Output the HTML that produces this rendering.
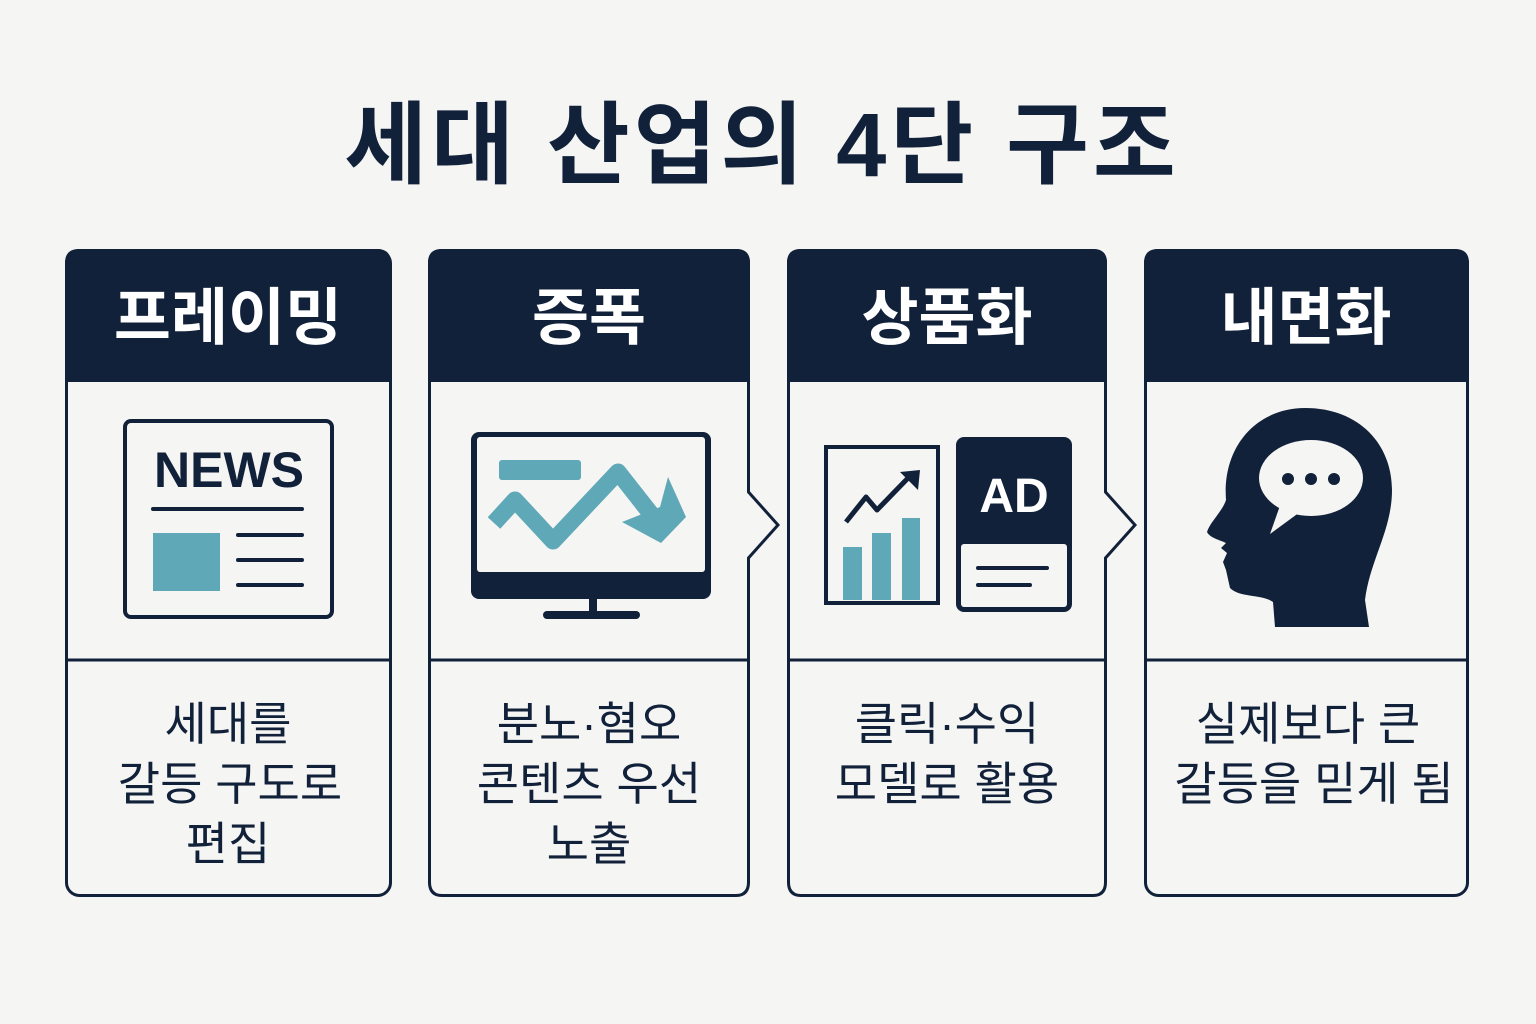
<!DOCTYPE html>
<html><head><meta charset="utf-8"><style>
html,body{margin:0;padding:0;background:#f5f5f3;}
svg{display:block}
text{font-family:"Liberation Sans","Noto Sans CJK KR","NanumGothic",sans-serif;}
</style></head><body>
<svg width="1536" height="1024" viewBox="0 0 1536 1024" xmlns="http://www.w3.org/2000/svg">
<rect width="1536" height="1024" fill="#f5f5f3"/>
<text x="762" y="176" text-anchor="middle" font-size="90" font-weight="700" letter-spacing="4" fill="#12213a">세대 산업의 4단 구조</text>

<!-- Card 1 -->
<path d="M79,249 H377 Q391,249 391,263 V382 H65 V263 Q65,249 79,249 Z" fill="#12213a"/>
<rect x="66.5" y="250.5" width="324" height="645" rx="13" fill="none" stroke="#12213a" stroke-width="3"/>
<line x1="65" y1="660" x2="391" y2="660" stroke="#12213a" stroke-width="3"/>
<text x="228" y="339" text-anchor="middle" font-size="62" font-weight="700" fill="#fff">프레이밍</text>

<!-- Card 2 -->
<path d="M442,249 H736 Q750,249 750,263 V382 H428 V263 Q428,249 442,249 Z" fill="#12213a"/>
<path d="M442,250.5 H736 Q748.5,250.5 748.5,263 V492 L778,525 L748.5,558 V882 Q748.5,895.5 736,895.5 H442 Q429.5,895.5 429.5,882 V263 Q429.5,250.5 442,250.5 Z" fill="none" stroke="#12213a" stroke-width="3"/>
<line x1="428" y1="660" x2="750" y2="660" stroke="#12213a" stroke-width="3"/>
<text x="589" y="339" text-anchor="middle" font-size="62" font-weight="700" fill="#fff">증폭</text>

<!-- Card 3 -->
<path d="M801,249 H1093 Q1107,249 1107,263 V382 H787 V263 Q787,249 801,249 Z" fill="#12213a"/>
<path d="M801,250.5 H1093 Q1105.5,250.5 1105.5,263 V492 L1135,525 L1105.5,558 V882 Q1105.5,895.5 1093,895.5 H801 Q788.5,895.5 788.5,882 V263 Q788.5,250.5 801,250.5 Z" fill="none" stroke="#12213a" stroke-width="3"/>
<line x1="787" y1="660" x2="1107" y2="660" stroke="#12213a" stroke-width="3"/>
<text x="947" y="339" text-anchor="middle" font-size="62" font-weight="700" fill="#fff">상품화</text>

<!-- Card 4 -->
<path d="M1158,249 H1455 Q1469,249 1469,263 V382 H1144 V263 Q1144,249 1158,249 Z" fill="#12213a"/>
<rect x="1145.5" y="250.5" width="322" height="645" rx="13" fill="none" stroke="#12213a" stroke-width="3"/>
<line x1="1144" y1="660" x2="1469" y2="660" stroke="#12213a" stroke-width="3"/>
<text x="1306" y="339" text-anchor="middle" font-size="62" font-weight="700" fill="#fff">내면화</text>

<!-- bottom texts -->
<g font-size="46" fill="#12213a" text-anchor="middle">
<text x="228" y="740">세대를</text>
<text x="230" y="800">갈등 구도로</text>
<text x="228" y="860">편집</text>
<text x="589" y="740">분노·혐오</text>
<text x="589" y="800">콘텐츠 우선</text>
<text x="589" y="860">노출</text>
<text x="947" y="740">클릭·수익</text>
<text x="947" y="800">모델로 활용</text>
<text x="1308" y="740">실제보다 큰</text>
<text x="1314" y="800">갈등을 믿게 됨</text>
</g>

<!-- News icon -->
<rect x="125" y="421" width="207" height="196" rx="6" fill="#f5f5f3" stroke="#12213a" stroke-width="4"/>
<text x="229" y="487" text-anchor="middle" font-size="50" font-weight="700" fill="#12213a">NEWS</text>
<line x1="153" y1="509" x2="302" y2="509" stroke="#12213a" stroke-width="4" stroke-linecap="round"/>
<rect x="153" y="533" width="67" height="58" fill="#5fa8b8"/>
<g stroke="#12213a" stroke-width="4" stroke-linecap="round">
<line x1="238" y1="535" x2="302" y2="535"/><line x1="238" y1="560" x2="302" y2="560"/><line x1="238" y1="585" x2="302" y2="585"/>
</g>

<!-- Monitor -->
<rect x="471" y="432" width="240" height="167" rx="8" fill="#12213a"/>
<rect x="477" y="437" width="228" height="135" rx="3" fill="#f5f5f3"/>
<rect x="589" y="598" width="8" height="16" fill="#12213a"/>
<rect x="543" y="611" width="97" height="8" rx="4" fill="#12213a"/>
<rect x="499" y="460" width="82" height="20" rx="3" fill="#5fa8b8"/>
<polyline points="494,523 515,500 553,541 618,472 651,514" fill="none" stroke="#5fa8b8" stroke-width="17" stroke-linejoin="round"/>
<polygon points="622,522 661,543 686,517 668,477 660,507" fill="#5fa8b8"/>

<!-- Chart -->
<rect x="826" y="447" width="112" height="156" fill="#f5f5f3" stroke="#12213a" stroke-width="4"/>
<rect x="843" y="547" width="19" height="53" fill="#5fa8b8"/>
<rect x="872" y="533" width="19" height="67" fill="#5fa8b8"/>
<rect x="902" y="518" width="18" height="82" fill="#5fa8b8"/>
<polyline points="846,522 866,497 877,510 910,476" fill="none" stroke="#12213a" stroke-width="5" stroke-linejoin="round"/>
<polygon points="900,472 920,470 918,490" fill="#12213a"/>

<!-- AD -->
<rect x="956" y="437" width="116" height="175" rx="8" fill="#12213a"/>
<rect x="961" y="544" width="106" height="63" rx="3" fill="#f5f5f3"/>
<text x="1014" y="512" text-anchor="middle" font-size="48" font-weight="700" fill="#fff">AD</text>
<line x1="978" y1="568" x2="1047" y2="568" stroke="#12213a" stroke-width="4" stroke-linecap="round"/>
<line x1="978" y1="585" x2="1030" y2="585" stroke="#12213a" stroke-width="4" stroke-linecap="round"/>

<!-- Head -->
<path d="M1275,627 L1273,602 C1262,594 1240,598 1230,588 L1226,570 L1223,562 L1227,553 L1221,548 L1226,543 C1220,540 1210,538 1207,532 C1210,522 1222,512 1226,500 C1222,445 1258,408 1305,408 C1360,408 1392,445 1392,490 C1392,530 1370,560 1365,600 L1369,627 Z" fill="#12213a"/>
<ellipse cx="1311" cy="478" rx="52" ry="38" fill="#f5f5f3"/>
<polygon points="1282,500 1300,512 1270,534" fill="#f5f5f3"/>
<circle cx="1288" cy="479" r="6" fill="#12213a"/>
<circle cx="1311" cy="479" r="6" fill="#12213a"/>
<circle cx="1334" cy="479" r="6" fill="#12213a"/>
</svg>
</body></html>
